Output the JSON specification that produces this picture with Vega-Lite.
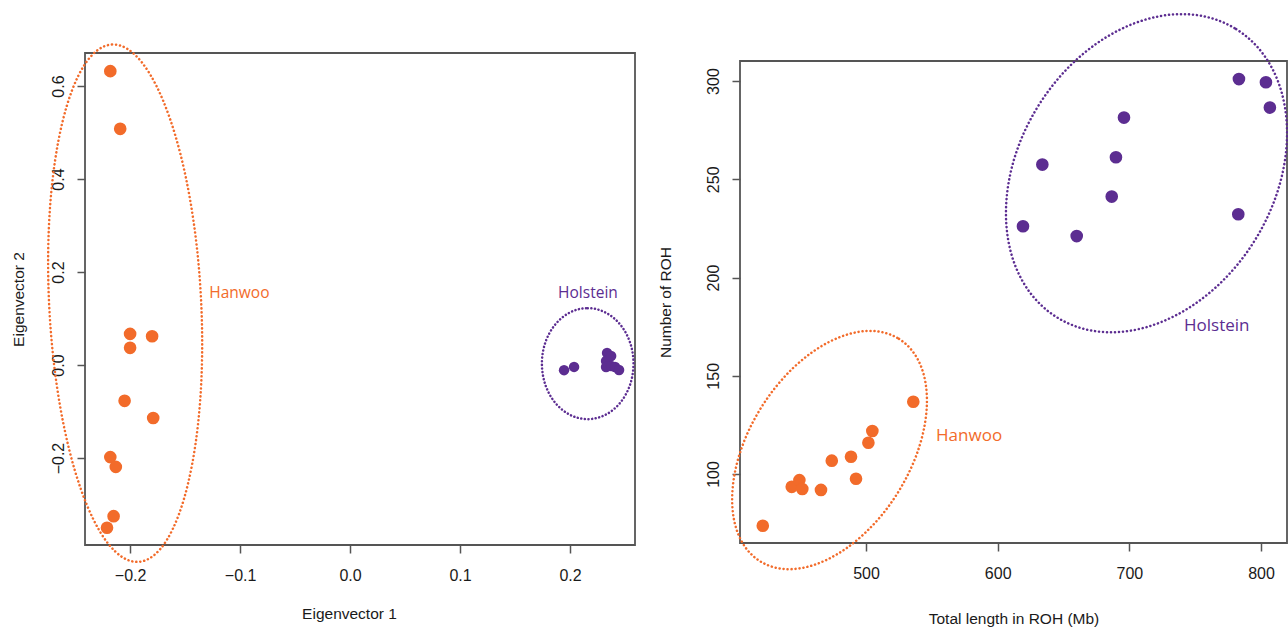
{
  "$schema": "https://vega.github.io/schema/vega-lite/v6.json",
  "autosize": {"type": "none"},
  "padding": {"left": 85, "top": 53, "right": 1203, "bottom": 575},
  "background": "white",
  "datasets": {
    "pca": [
      {"breed": "Hanwoo", "ev1": -0.218, "ev2": 0.632},
      {"breed": "Hanwoo", "ev1": -0.209, "ev2": 0.508},
      {"breed": "Hanwoo", "ev1": -0.200, "ev2": 0.067},
      {"breed": "Hanwoo", "ev1": -0.200, "ev2": 0.037},
      {"breed": "Hanwoo", "ev1": -0.180, "ev2": 0.062},
      {"breed": "Hanwoo", "ev1": -0.205, "ev2": -0.077},
      {"breed": "Hanwoo", "ev1": -0.179, "ev2": -0.114},
      {"breed": "Hanwoo", "ev1": -0.218, "ev2": -0.198},
      {"breed": "Hanwoo", "ev1": -0.213, "ev2": -0.219},
      {"breed": "Hanwoo", "ev1": -0.215, "ev2": -0.325},
      {"breed": "Hanwoo", "ev1": -0.221, "ev2": -0.350},
      {"breed": "Holstein", "ev1": 0.1945, "ev2": -0.011},
      {"breed": "Holstein", "ev1": 0.2036, "ev2": -0.004},
      {"breed": "Holstein", "ev1": 0.2336, "ev2": 0.0258},
      {"breed": "Holstein", "ev1": 0.2355, "ev2": 0.0172},
      {"breed": "Holstein", "ev1": 0.2327, "ev2": 0.0086},
      {"breed": "Holstein", "ev1": 0.2327, "ev2": -0.0043},
      {"breed": "Holstein", "ev1": 0.2373, "ev2": -0.0022},
      {"breed": "Holstein", "ev1": 0.2409, "ev2": -0.0043},
      {"breed": "Holstein", "ev1": 0.2445, "ev2": -0.0108},
      {"breed": "Holstein", "ev1": 0.2373, "ev2": 0.0194}
    ],
    "roh": [
      {"breed": "Hanwoo", "length": 421.6, "count": 73.7},
      {"breed": "Hanwoo", "length": 443.6, "count": 93.5},
      {"breed": "Hanwoo", "length": 449.4, "count": 96.9},
      {"breed": "Hanwoo", "length": 451.6, "count": 92.4},
      {"breed": "Hanwoo", "length": 465.8, "count": 91.9},
      {"breed": "Hanwoo", "length": 474.0, "count": 106.8},
      {"breed": "Hanwoo", "length": 488.6, "count": 108.8},
      {"breed": "Hanwoo", "length": 492.4, "count": 97.6},
      {"breed": "Hanwoo", "length": 501.8, "count": 115.9},
      {"breed": "Hanwoo", "length": 504.8, "count": 121.9},
      {"breed": "Hanwoo", "length": 535.9, "count": 136.8},
      {"breed": "Holstein", "length": 783.2, "count": 301.0},
      {"breed": "Holstein", "length": 803.7, "count": 299.4},
      {"breed": "Holstein", "length": 806.7, "count": 286.5},
      {"breed": "Holstein", "length": 695.9, "count": 281.4},
      {"breed": "Holstein", "length": 689.8, "count": 261.2},
      {"breed": "Holstein", "length": 633.9, "count": 257.5},
      {"breed": "Holstein", "length": 686.6, "count": 241.2},
      {"breed": "Holstein", "length": 619.2, "count": 226.1},
      {"breed": "Holstein", "length": 660.0, "count": 221.1},
      {"breed": "Holstein", "length": 782.7, "count": 232.2}
    ],
    "ellipses": [
      {"panel": "PCA", "breed": "Hanwoo", "cx": -0.2045, "cy": 0.133},
      {"panel": "PCA", "breed": "Holstein", "cx": 0.216, "cy": 0.003},
      {"panel": "ROH", "breed": "Hanwoo", "cx": 472.3, "cy": 112.2},
      {"panel": "ROH", "breed": "Holstein", "cx": 713.0, "cy": 253.1}
    ],
    "labels": [
      {"panel": "PCA", "breed": "Hanwoo", "lx": -0.128, "ly": 0.155},
      {"panel": "PCA", "breed": "Holstein", "lx": 0.1891, "ly": 0.155},
      {"panel": "ROH", "breed": "Hanwoo", "lx": 553.2, "ly": 119.3},
      {"panel": "ROH", "breed": "Holstein", "lx": 741.5, "ly": 175.3}
    ]
  },
  "spacing": 105,
  "bounds": "flush",
  "hconcat": [
    {
      "width": 550,
      "height": 492,
      "encoding": {
        "x": {"type": "quantitative",
          "scale": {"domain": [-0.241, 0.259], "nice": false, "zero": false},
          "axis": {"title": "Eigenvector 1", "values": [-0.2, -0.1, 0, 0.1, 0.2], "format": ".1f", "titleX": 264, "titleY": 68}},
        "y": {"type": "quantitative",
          "scale": {"domain": [-0.387, 0.671], "nice": false, "zero": false},
          "axis": {"title": "Eigenvector 2", "values": [-0.2, 0, 0.2, 0.4, 0.6], "format": ".1f", "titleX": -67}}
      },
      "layer": [
        {
          "data": {"name": "pca"},
          "mark": {"type": "circle", "opacity": 1},
          "encoding": {
            "x": {"field": "ev1"},
            "y": {"field": "ev2"},
            "color": {"field": "breed", "type": "nominal",
              "scale": {"domain": ["Hanwoo", "Holstein"], "range": ["#F26B2A", "#5C2D91"]}, "legend": null},
            "size": {"field": "breed", "type": "nominal",
              "scale": {"domain": ["Hanwoo", "Holstein"], "range": [160, 110]}, "legend": null}
          }
        },
        {
          "data": {"name": "ellipses"},
          "transform": [{"filter": "datum.panel === 'PCA' && datum.breed === 'Hanwoo'"}],
          "mark": {"type": "point", "filled": false, "opacity": 1,
            "shape": "M0,-1C0.16205,-1,0.2934,-0.5523,0.2934,0C0.2934,0.5523,0.16205,1,0,1C-0.16205,1,-0.2934,0.5523,-0.2934,0C-0.2934,-0.5523,-0.16205,-1,0,-1Z",
            "size": 268324, "angle": 357.1,
            "stroke": "#F26B2A", "strokeWidth": 2.5, "strokeDash": [0.1, 3.9], "strokeCap": "round"},
          "encoding": {
            "x": {"field": "cx"},
            "y": {"field": "cy"}
          }
        },
        {
          "data": {"name": "ellipses"},
          "transform": [{"filter": "datum.panel === 'PCA' && datum.breed === 'Holstein'"}],
          "mark": {"type": "point", "filled": false, "opacity": 1,
            "shape": "M0,-1C0.4556,-1,0.825,-0.5523,0.825,0C0.825,0.5523,0.4556,1,0,1C-0.4556,1,-0.825,0.5523,-0.825,0C-0.825,-0.5523,-0.4556,-1,0,-1Z",
            "size": 12321,
            "stroke": "#5C2D91", "strokeWidth": 2.5, "strokeDash": [0.1, 3.5], "strokeCap": "round"},
          "encoding": {
            "x": {"field": "cx"},
            "y": {"field": "cy"}
          }
        },
        {
          "data": {"name": "labels"},
          "transform": [{"filter": "datum.panel === 'PCA'"}],
          "mark": {"type": "text", "align": "left", "baseline": "middle", "font": "Open Sans", "fontSize": 15.5},
          "encoding": {
            "x": {"field": "lx"},
            "y": {"field": "ly"},
            "text": {"field": "breed", "type": "nominal"},
            "color": {"field": "breed", "type": "nominal",
              "scale": {"domain": ["Hanwoo", "Holstein"], "range": ["#F26B2A", "#5C2D91"]}, "legend": null}
          }
        }
      ]
    },
    {
      "spacing": 0,
      "bounds": "flush",
      "vconcat": [
        {
          "width": 547,
          "height": 8,
          "view": {"stroke": null},
          "data": {"values": [{"a": 1}]},
          "mark": {"type": "point", "opacity": 0}
        },
        {
          "width": 547,
          "height": 482,
          "encoding": {
            "x": {"type": "quantitative",
              "scale": {"domain": [404.3, 819.7], "nice": false, "zero": false},
              "axis": {"title": "Total length in ROH (Mb)", "values": [500, 600, 700, 800], "titleY": 75}},
            "y": {"type": "quantitative",
              "scale": {"domain": [64.9, 310.2], "nice": false, "zero": false},
              "axis": {"title": "Number of ROH", "values": [100, 150, 200, 250, 300], "titleX": -75}}
          },
          "layer": [
            {
              "data": {"name": "roh"},
              "mark": {"type": "circle", "opacity": 1, "size": 160},
              "encoding": {
                "x": {"field": "length"},
                "y": {"field": "count"},
                "color": {"field": "breed", "type": "nominal",
                  "scale": {"domain": ["Hanwoo", "Holstein"], "range": ["#F26B2A", "#5C2D91"]}, "legend": null}
              }
            },
            {
              "data": {"name": "ellipses"},
              "transform": [{"filter": "datum.panel === 'ROH' && datum.breed === 'Hanwoo'"}],
              "mark": {"type": "point", "filled": false, "opacity": 1,
                "shape": "M0,-1C0.3391,-1,0.614,-0.5523,0.614,0C0.614,0.5523,0.3391,1,0,1C-0.3391,1,-0.614,0.5523,-0.614,0C-0.614,-0.5523,-0.3391,-1,0,-1Z",
                "size": 68749, "angle": 32,
                "stroke": "#F26B2A", "strokeWidth": 2.5, "strokeDash": [0.1, 3.9], "strokeCap": "round"},
              "encoding": {
                "x": {"field": "cx"},
                "y": {"field": "cy"}
              }
            },
            {
              "data": {"name": "ellipses"},
              "transform": [{"filter": "datum.panel === 'ROH' && datum.breed === 'Holstein'"}],
              "mark": {"type": "point", "filled": false, "opacity": 1,
                "shape": "M0,-1C0.4148,-1,0.751,-0.5523,0.751,0C0.751,0.5523,0.4148,1,0,1C-0.4148,1,-0.751,0.5523,-0.751,0C-0.751,-0.5523,-0.4148,-1,0,-1Z",
                "size": 115192, "angle": 31.9,
                "stroke": "#5C2D91", "strokeWidth": 2.5, "strokeDash": [0.1, 3.9], "strokeCap": "round"},
              "encoding": {
                "x": {"field": "cx"},
                "y": {"field": "cy"}
              }
            },
            {
              "data": {"name": "labels"},
              "transform": [{"filter": "datum.panel === 'ROH'"}],
              "mark": {"type": "text", "align": "left", "baseline": "middle", "font": "Open Sans", "fontSize": 17},
              "encoding": {
                "x": {"field": "lx"},
                "y": {"field": "ly"},
                "text": {"field": "breed", "type": "nominal"},
                "color": {"field": "breed", "type": "nominal",
                  "scale": {"domain": ["Hanwoo", "Holstein"], "range": ["#F26B2A", "#5C2D91"]}, "legend": null}
              }
            }
          ]
        }
      ]
    }
  ],
  "config": {
    "view": {"stroke": "#555555", "strokeWidth": 1.8},
    "axis": {
      "domain": false, "grid": false, "ticks": true,
      "tickColor": "#555555", "tickWidth": 1.5, "tickSize": 8,
      "labelFont": "Liberation Sans", "labelFontSize": 16, "labelColor": "#1a1a1a", "labelPadding": 14,
      "labelFlush": false, "labelOverlap": false,
      "titleFont": "Liberation Sans", "titleFontSize": 15.5, "titleFontWeight": "normal", "titleColor": "#1a1a1a"
    },
    "axisX": {"titleBaseline": "middle"},
    "axisY": {"labelAngle": -90, "labelAlign": "center", "labelBaseline": "alphabetic", "titleBaseline": "middle"}
  }
}
